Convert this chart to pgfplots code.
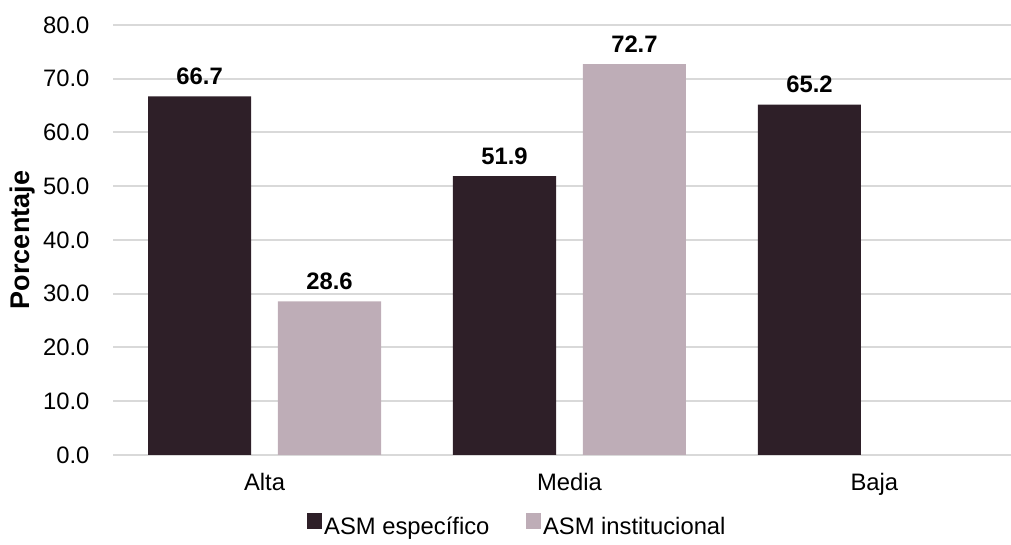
\documentclass[border=0pt]{standalone}
\usepackage{fontspec}
\setmainfont{Liberation Sans}
\usepackage{pgfplots}
\pgfplotsset{compat=1.18}
\definecolor{darkbar}{RGB}{46,31,40}
\definecolor{lightbar}{RGB}{190,173,183}
\definecolor{gridc}{RGB}{217,217,217}
\begin{document}
\begin{tikzpicture}[x=1pt,y=1pt]
\begin{axis}[
  at={(113pt,90pt)}, anchor=south west,
  scale only axis, width=898pt, height=430pt,
  xmin=-0.497, xmax=2.448, ymin=0, ymax=80,
  ytick={0,10,...,80},
  xtick={0,1,2},
  xticklabels={Alta,Media,Baja},
  axis line style={draw=none},
  tick style={draw=none},
  ymajorgrids, major grid style={gridc, line width=2pt},
  /pgf/number format/assume math mode=true,
  y tick label style={font=\fontsize{23.8}{28}\selectfont, xshift=-20pt, /pgf/number format/.cd, fixed, fixed zerofill, precision=1},
  x tick label style={font=\fontsize{23.8}{28}\selectfont, yshift=-10pt},
  ylabel={Porcentaje},
  ylabel style={at={(axis description cs:-0.101,0.5)}, anchor=center, font=\bfseries\fontsize{27}{31}\selectfont},
  ybar, bar width=0.338,
  nodes near coords,
  nodes near coords style={font=\bfseries\fontsize{23.8}{28}\selectfont, anchor=south, yshift=8pt},
  legend style={at={(axis description cs:0.450,-0.168)}, anchor=center, draw=none, fill=none,
    legend columns=2, font=\fontsize{23.8}{28}\selectfont,
    nodes={text height=18pt, text depth=5pt, inner sep=2pt},
    /tikz/every even column/.append style={column sep=34pt}},
  legend image code/.code={\fill[#1,draw=none] (0pt,-1pt) rectangle (15.5pt,14.5pt);},
]
\addplot[fill=darkbar, draw=none, bar shift=-0.213] coordinates {(0,66.7) (1,51.9) (2,65.2)};
\addlegendentry{ASM específico}
\addplot[fill=lightbar, draw=none, bar shift=0.213] coordinates {(0,28.6) (1,72.7)};
\addlegendentry{ASM institucional}
\end{axis}
\pgfresetboundingbox
\path (0,0) rectangle (1011,545);
\end{tikzpicture}
\end{document}
